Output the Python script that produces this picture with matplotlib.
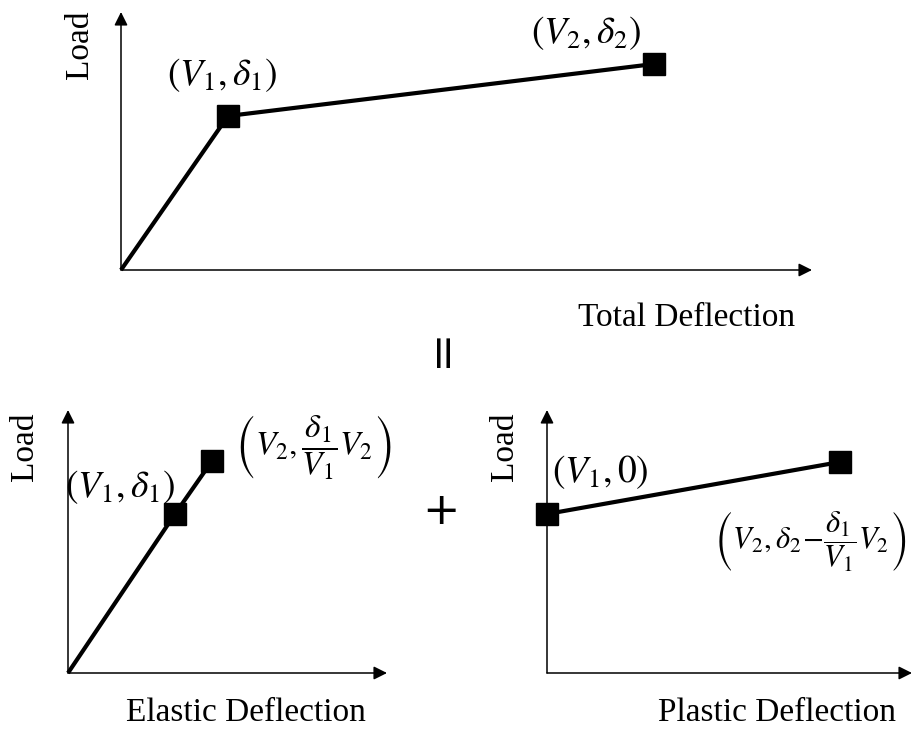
import matplotlib
matplotlib.use('Agg')
import matplotlib.pyplot as plt

plt.rcParams['font.family'] = ['Liberation Serif', 'DejaVu Serif']
plt.rcParams['mathtext.fontset'] = 'stix'

# load-deflection points (schematic units)
total_defl = [0, 1.07, 5.33]
total_load = [0, 1.54, 2.06]
elastic_defl = [0, 1.07, 1.44]
elastic_load = [0, 1.59, 2.12]
plastic_defl = [0, 2.93]
plastic_load = [1.59, 2.11]

W, H = 912, 733
fig = plt.figure(figsize=(W / 100, H / 100), dpi=100)


def panel(left, base, width, height):
    ax = fig.add_axes([left / W, (H - base) / H, width / W, height / H])
    ax.set_xlim(0, width / 100)
    ax.set_ylim(0, height / 100)
    ax.axis('off')
    arrow = dict(arrowstyle='-|>', color='black', lw=1.1, mutation_scale=20,
                 shrinkA=0, shrinkB=0)
    ax.annotate('', xy=(1, 0), xytext=(0, 0), xycoords='axes fraction',
                arrowprops=arrow, annotation_clip=False)
    ax.annotate('', xy=(0, 1), xytext=(0, 0), xycoords='axes fraction',
                arrowprops=arrow, annotation_clip=False)
    return ax


def curve(ax, x, y):
    ax.plot(x, y, color='black', lw=3, solid_capstyle='butt', clip_on=False)
    ax.plot(x[-2:] if len(x) > 2 else x, y[-2:] if len(y) > 2 else y, 's',
            color='black', ms=16, clip_on=False)


# total
ax1 = panel(121, 270, 691, 258)
curve(ax1, total_defl, total_load)
ax1.text(-0.41, 2.25, 'Load', rotation=90, ha='center', va='center', fontsize=24)
ax1.text(5.66, -0.48, 'Total Deflection', ha='center', va='center', fontsize=24)
ax1.text(1.01, 1.95, r'$\left(V_1,\delta_1\right)$', ha='center', va='center', fontsize=27)
ax1.text(4.65, 2.37, r'$\left(V_2,\delta_2\right)$', ha='center', va='center', fontsize=27)

# elastic part
ax2 = panel(68, 673, 319, 263)
curve(ax2, elastic_defl, elastic_load)
ax2.text(-0.43, 2.26, 'Load', rotation=90, ha='center', va='center', fontsize=24)
ax2.text(1.78, -0.40, 'Elastic Deflection', ha='center', va='center', fontsize=24)
ax2.text(0.52, 1.86, r'$\left(V_1,\delta_1\right)$', ha='center', va='center', fontsize=27)
ax2.text(2.45, 2.26, r'$\left(V_2,\dfrac{\delta_1}{V_1}V_2\right)$',
         ha='center', va='center', fontsize=24)

# plastic part
ax3 = panel(547, 673, 365, 263)
curve(ax3, plastic_defl, plastic_load)
ax3.text(-0.42, 2.26, 'Load', rotation=90, ha='center', va='center', fontsize=24)
ax3.text(2.30, -0.40, 'Plastic Deflection', ha='center', va='center', fontsize=24)
ax3.text(0.53, 2.01, r'$\left(V_1,0\right)$', ha='center', va='center', fontsize=27)
ax3.text(2.63, 1.31, r'$\left(V_2,\delta_2\!-\!\dfrac{\delta_1}{V_1}V_2\right)$',
         ha='center', va='center', fontsize=22)

# equals / plus between the panels
fig.text(442 / W, 1 - 347 / H, '=', rotation=90, ha='center', va='center',
         fontsize=34, family='DejaVu Sans')
fig.text(441 / W, 1 - 512 / H, '+', ha='center', va='center',
         fontsize=32, family='DejaVu Sans')

fig.savefig('out.png', dpi=100)
